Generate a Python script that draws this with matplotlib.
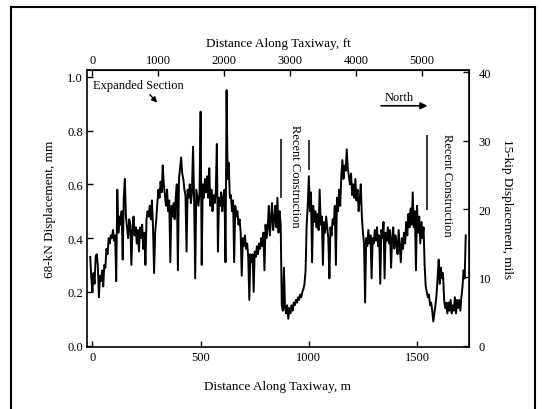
import numpy as np
import matplotlib
matplotlib.use("Agg")
import matplotlib.pyplot as plt
from matplotlib.lines import Line2D
from matplotlib.ticker import FormatStrFormatter

plt.rcParams["font.family"] = ["Liberation Serif", "DejaVu Serif"]

# 68-kN displacement (mm), read every 5 m starting at -10 m
start_m = -10
step_m = 5
disp_mm = [
    0.33, 0.25, 0.20, 0.27, 0.23, 0.33, 0.34, 0.30, 0.18, 0.26,   # -10
    0.24, 0.28, 0.22, 0.30, 0.29, 0.36, 0.34, 0.40, 0.38, 0.41,   # 40
    0.40, 0.43, 0.39, 0.41, 0.24, 0.58, 0.42, 0.48, 0.45, 0.50,   # 90
    0.32, 0.55, 0.62, 0.48, 0.44, 0.40, 0.47, 0.45, 0.30, 0.43,   # 140
    0.48, 0.41, 0.44, 0.38, 0.43, 0.35, 0.44, 0.40, 0.45, 0.36,   # 190
    0.42, 0.30, 0.47, 0.50, 0.48, 0.52, 0.47, 0.54, 0.44, 0.27,   # 240
    0.42, 0.47, 0.53, 0.58, 0.55, 0.61, 0.57, 0.67, 0.60, 0.56,   # 290
    0.52, 0.58, 0.50, 0.54, 0.31, 0.52, 0.48, 0.53, 0.47, 0.55,   # 340
    0.60, 0.28, 0.62, 0.66, 0.70, 0.64, 0.62, 0.58, 0.56, 0.35,   # 390
    0.58, 0.55, 0.60, 0.53, 0.57, 0.74, 0.54, 0.25, 0.58, 0.55,   # 440
    0.52, 0.57, 0.87, 0.30, 0.60, 0.55, 0.62, 0.57, 0.63, 0.55,   # 490
    0.66, 0.52, 0.58, 0.50, 0.56, 0.53, 0.57, 0.75, 0.35, 0.55,   # 540
    0.52, 0.57, 0.50, 0.55, 0.58, 0.31, 0.95, 0.62, 0.68, 0.55,   # 590
    0.56, 0.50, 0.54, 0.31, 0.52, 0.48, 0.50, 0.45, 0.47, 0.42,   # 640
    0.26, 0.40, 0.37, 0.41, 0.36, 0.38, 0.33, 0.17, 0.34, 0.31,   # 690
    0.34, 0.20, 0.35, 0.33, 0.37, 0.34, 0.38, 0.36, 0.40, 0.37,   # 740
    0.42, 0.28, 0.45, 0.40, 0.44, 0.52, 0.41, 0.47, 0.53, 0.43,   # 790
    0.47, 0.52, 0.44, 0.55, 0.42, 0.50, 0.45, 0.15, 0.13, 0.29,   # 840
    0.14, 0.12, 0.15, 0.10, 0.14, 0.12, 0.15, 0.13, 0.16, 0.15,   # 890
    0.17, 0.16, 0.18, 0.17, 0.19, 0.18, 0.20, 0.21, 0.23, 0.28,   # 940
    0.45, 0.52, 0.63, 0.50, 0.57, 0.31, 0.52, 0.46, 0.50, 0.44,   # 990
    0.49, 0.43, 0.58, 0.45, 0.48, 0.30, 0.46, 0.42, 0.48, 0.44,   # 1040
    0.40, 0.25, 0.44, 0.41, 0.47, 0.45, 0.52, 0.30, 0.55, 0.50,   # 1090
    0.58, 0.52, 0.63, 0.69, 0.62, 0.67, 0.65, 0.73, 0.66, 0.63,   # 1140
    0.60, 0.64, 0.56, 0.60, 0.55, 0.62, 0.54, 0.58, 0.50, 0.54,   # 1190
    0.60, 0.48, 0.42, 0.38, 0.16, 0.40, 0.37, 0.43, 0.38, 0.41,   # 1240
    0.25, 0.40, 0.38, 0.43, 0.39, 0.44, 0.37, 0.41, 0.23, 0.43,   # 1290
    0.40, 0.46, 0.25, 0.42, 0.39, 0.44, 0.38, 0.43, 0.29, 0.40,   # 1340
    0.44, 0.36, 0.41, 0.38, 0.34, 0.43, 0.37, 0.31, 0.40, 0.36,   # 1390
    0.42, 0.38, 0.46, 0.41, 0.49, 0.44, 0.51, 0.45, 0.57, 0.44,   # 1440
    0.50, 0.28, 0.52, 0.42, 0.48, 0.38, 0.46, 0.40, 0.44, 0.30,   # 1490
    0.22, 0.20, 0.18, 0.19, 0.15, 0.16, 0.13, 0.09, 0.12, 0.15,   # 1540
    0.19, 0.25, 0.32, 0.23, 0.29, 0.25, 0.27, 0.17, 0.14, 0.16,   # 1590
    0.12, 0.16, 0.13, 0.17, 0.12, 0.15, 0.13, 0.18, 0.12, 0.17,   # 1640
    0.14, 0.17, 0.13, 0.18, 0.22, 0.28, 0.25, 0.41,               # 1690
]
dist_m = start_m + step_m * np.arange(len(disp_mm))

# construction markers (vertical strokes)
marker_x = [870, 1000, 1545]
marker_lo = [0.55, 0.654, 0.505]
marker_hi = [0.77, 0.765, 0.785]

bottom_ticks = [0, 500, 1000, 1500]
top_ticks = [0, 1000, 2000, 3000, 4000, 5000]
left_ticks = [0.0, 0.2, 0.4, 0.6, 0.8, 1.0]
right_ticks = [0, 10, 20, 30, 40]

M_TO_FT = 3.2808
MM_TO_MIL = 1 / 0.0254

fig = plt.figure(figsize=(5.42, 4.10), dpi=100)
ax = fig.add_axes([0.1605, 0.1512, 0.7048, 0.6756])

ax.plot(dist_m, disp_mm, color="black", lw=1.4)
ax.vlines(marker_x, marker_lo, marker_hi, color="black", lw=1.1)

ax.set_xlim(-25, 1740)
ax.set_ylim(-0.005, 1.025)
ax.set_xticks(bottom_ticks)
ax.set_yticks(left_ticks)
ax.yaxis.set_major_formatter(FormatStrFormatter("%.1f"))
ax.tick_params(direction="in", length=4, width=1, labelsize=9, pad=3)
for s in ax.spines.values():
    s.set_linewidth(1.2)
ax.set_xlabel("Distance Along Taxiway, m", fontsize=9.5, labelpad=12)
ax.set_ylabel("68-kN Displacement, mm", fontsize=9.5, labelpad=8)

top = ax.secondary_xaxis("top", functions=(lambda m: m * M_TO_FT, lambda f: f / M_TO_FT))
top.set_xticks(top_ticks)
top.tick_params(direction="in", length=4, width=1, labelsize=9, pad=3)
top.set_xlabel("Distance Along Taxiway, ft", fontsize=9.5, labelpad=6)

right = ax.secondary_yaxis("right", functions=(lambda v: v * MM_TO_MIL, lambda v: v / MM_TO_MIL))
right.set_yticks(right_ticks)
right.tick_params(direction="in", length=4, width=1, labelsize=9, pad=7)
right.set_ylabel("15-kip Displacement, mils", fontsize=9.5, rotation=270, labelpad=16)

# annotations
ax.text(3, 0.971, "Expanded Section", fontsize=9, va="center", ha="left")
ax.annotate("", xy=(308, 0.896), xytext=(257, 0.941),
            arrowprops=dict(arrowstyle="-|>", color="black", lw=1.0, mutation_scale=8))
ax.text(1418, 0.926, "North", fontsize=9, va="center", ha="center")
ax.annotate("", xy=(1561, 0.892), xytext=(1321, 0.892),
            arrowprops=dict(arrowstyle="-|>", color="black", lw=1.2, mutation_scale=10))
ax.text(934, 0.634, "Recent Construction", fontsize=9, rotation=270, va="center", ha="center")
ax.text(1640, 0.60, "Recent Construction", fontsize=9, rotation=270, va="center", ha="center")

# outer frame around the figure
frame_kw = dict(transform=fig.transFigure, color="black", lw=1.5)
fig.add_artist(Line2D([0.021, 0.021], [-0.01, 0.981], **frame_kw))
fig.add_artist(Line2D([0.021, 0.988], [0.981, 0.981], **frame_kw))
fig.add_artist(Line2D([0.988, 0.988], [-0.01, 0.981], **frame_kw))

fig.savefig("out.png", dpi=100)
